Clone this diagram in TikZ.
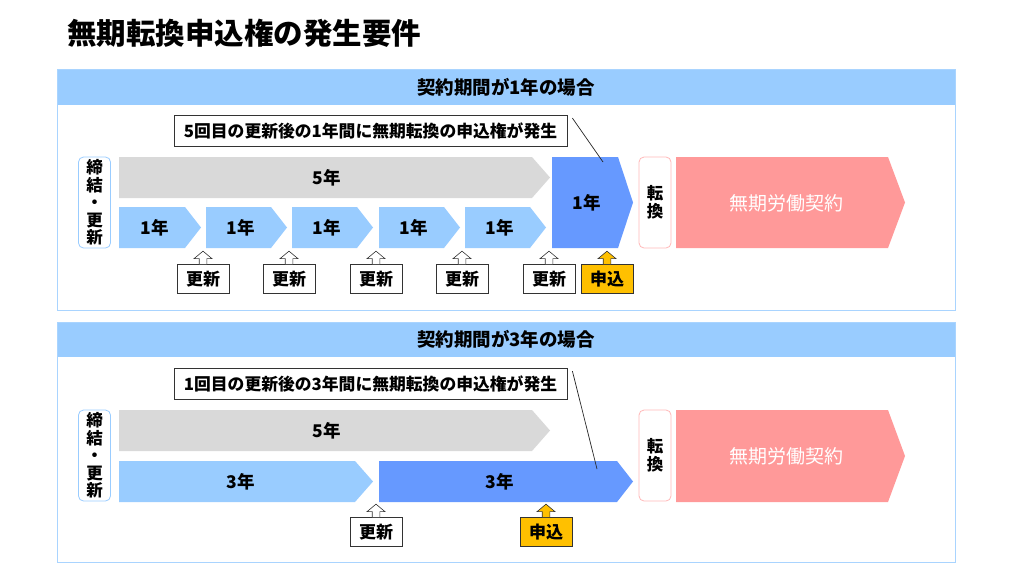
\documentclass[tikz,border=0pt]{standalone}
\usepackage{fontspec}
\setmainfont{Noto Sans CJK JP}
\usetikzlibrary{calc}
\definecolor{hdr}{HTML}{99CCFF}
\definecolor{pnl}{HTML}{A9D4FF}
\definecolor{grey5}{HTML}{D9D9D9}
\definecolor{lblue}{HTML}{99CCFF}
\definecolor{dblue}{HTML}{6699FF}
\definecolor{pinkc}{HTML}{FF9999}
\definecolor{pinkb}{HTML}{FFB9B9}
\definecolor{yel}{HTML}{FFC000}
\tikzset{
  panelbox/.style={draw=pnl, line width=0.8pt, fill=white},
  hdrbox/.style={fill=hdr},
  hdrtext/.style={font=\fontsize{18.5}{21}\selectfont\bfseries},
  callout/.style={draw=black!80, line width=0.8pt, fill=white, minimum height=31pt, inner xsep=6pt, font=\fontsize{16.8}{19}\selectfont\bfseries},
  vbox/.style={draw=#1, rounded corners=5pt, line width=0.8pt, fill=white, minimum width=32pt, minimum height=91pt, align=center, inner sep=0pt, font=\fontsize{16.5}{17.5}\selectfont\bfseries},
  lab/.style={font=\fontsize{17.5}{20}\selectfont\bfseries},
  tagbox/.style={draw=black!80, line width=0.7pt, fill=#1, minimum width=52pt, minimum height=29pt, inner sep=0pt, font=\fontsize{17}{19}\selectfont\bfseries},
  upar/.pic={\filldraw[draw=black!80, line width=0.6pt, fill=#1] (-3.8,0) -- (-3.8,-5.5) -- (-9,-5.5) -- (0,-13) -- (9,-5.5) -- (3.8,-5.5) -- (3.8,0);},
  leader/.style={draw=black!85, line width=0.7pt}
}
\newcommand\chev[6]{\fill[#6] (#1,#2) -- (#3,#2) -- (#4,{(#2+#5)/2}) -- (#3,#5) -- (#1,#5) -- cycle;}
\begin{document}
\begin{tikzpicture}[x=1pt,y=-1pt]
\useasboundingbox (0,0) rectangle (1024,576);
\fill[white] (0,0) rectangle (1024,576);

\node[anchor=west, font=\fontsize{29.5}{32}\selectfont\bfseries, inner sep=0pt] (title) at (67,33) {無期転換申込権の発生要件};

% ---------- Panel 1 ----------
\draw[panelbox] (57.5,69.5) rectangle (955,310);
\fill[hdrbox] (57.5,69.5) rectangle (955,105);
\draw[draw=pnl, line width=0.8pt] (57.5,69.5) rectangle (955,310);
\node[hdrtext] (h1) at (506,87) {契約期間が1年の場合};

\node[callout, minimum width=393pt] (c1) at (370.5,131) {5回目の更新後の1年間に無期転換の申込権が発生};

\node[vbox=lblue] (k1) at (94.5,202.5) {締\\結\\・\\更\\新};

\chev{119}{157}{532}{550}{198}{grey5}
\node[lab] (g1) at (327,178) {5年};

\chev{119}{207}{185}{201}{248}{lblue}
\chev{206}{207}{271}{287}{248}{lblue}
\chev{292}{207}{357}{373}{248}{lblue}
\chev{379}{207}{444}{460}{248}{lblue}
\chev{465}{207}{530}{546}{248}{lblue}
\node[lab] (a1) at (155,228) {1年};
\node[lab] (a2) at (241,228) {1年};
\node[lab] (a3) at (327,228) {1年};
\node[lab] (a4) at (414,228) {1年};
\node[lab] (a5) at (500,228) {1年};

\chev{552}{157}{618}{633}{248}{dblue}
\node[lab] (d1) at (587,203) {1年};

\node[vbox=pinkb] (t1) at (655,202.5) {転\\換};
\chev{676}{157}{888}{905}{248}{pinkc}
\node[lab, font=\fontsize{19}{22}\selectfont, text=white] (m1) at (786,203) {無期労働契約};

\coordinate (e1) at (603,162);
\draw[leader] ($(c1.north east)+(5,3)$) -- (e1);

\foreach \x/\n in {203/1,289/2,376/3,462/4,549/5}{
  \node[tagbox=white] (u1\n) at (\x,279) {更新};
  \pic at (u1\n.north) {upar=white};
}
\node[tagbox=yel] (s1) at (607,279) {申込};
\pic at (s1.north) {upar=yel};

% ---------- Panel 2 ----------
\draw[panelbox] (57.5,322) rectangle (955,562);
\fill[hdrbox] (57.5,322) rectangle (955,357);
\draw[draw=pnl, line width=0.8pt] (57.5,322) rectangle (955,562);
\node[hdrtext] (h2) at (506,339.5) {契約期間が3年の場合};

\node[callout, minimum width=393pt] (c2) at (370.5,384) {1回目の更新後の3年間に無期転換の申込権が発生};

\node[vbox=lblue] (k2) at (94.5,455.5) {締\\結\\・\\更\\新};

\chev{119}{410}{532}{550}{451}{grey5}
\node[lab] (g2) at (327,431) {5年};

\chev{119}{461}{355}{373}{502}{lblue}
\node[lab] (b1) at (241,482) {3年};
\chev{379}{461}{617}{633}{502}{dblue}
\node[lab] (b2) at (500,482) {3年};

\node[vbox=pinkb] (t2) at (655,455.5) {転\\換};
\chev{676}{410}{888}{905}{502}{pinkc}
\node[lab, font=\fontsize{19}{22}\selectfont, text=white] (m2) at (786,456) {無期労働契約};

\coordinate (e2) at (597,469);
\draw[leader] ($(c2.north east)+(5,3)$) -- (e2);

\node[tagbox=white] (u2) at (376,532) {更新};
\pic at (u2.north) {upar=white};
\node[tagbox=yel] (s2) at (546,532) {申込};
\pic at (s2.north) {upar=yel};
\end{tikzpicture}
\end{document}
